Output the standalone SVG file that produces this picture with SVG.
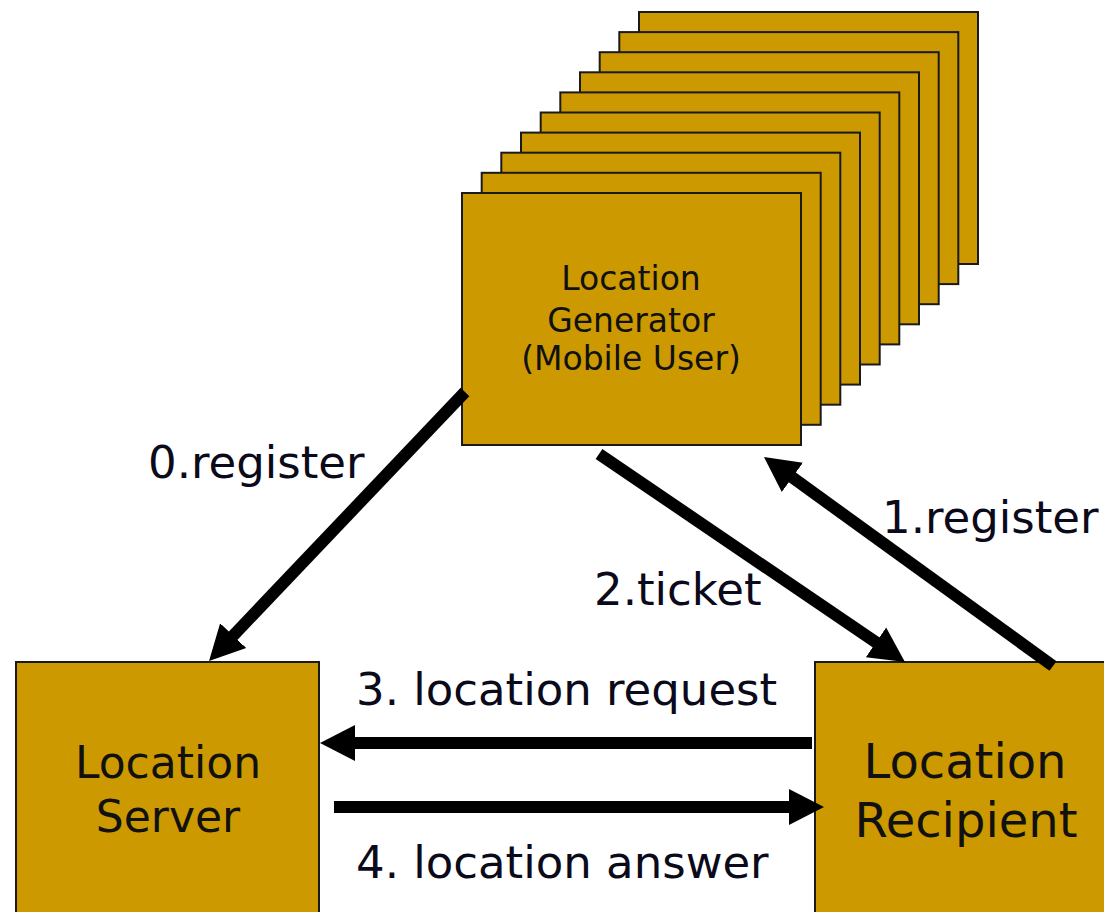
<svg xmlns="http://www.w3.org/2000/svg" width="1104" height="912" viewBox="0 0 1104 912">
  <defs>
    <style>
      .box { fill: #cc9900; stroke: #1a1a1a; stroke-width: 2; }
      .t { font-family: "DejaVu Sans", Verdana, sans-serif; fill: #111; text-anchor: middle; }
      .lbl { font-family: "DejaVu Sans", Verdana, sans-serif; fill: #0a0a1a; font-size: 45px; }
      .conn { stroke: #000; stroke-width: 12; fill: none; marker-end: url(#ah); }
    </style>
    <marker id="ah" markerUnits="userSpaceOnUse" markerWidth="40" markerHeight="40" viewBox="0 -20 40 40" refX="3" refY="0" orient="auto">
      <path d="M0,-18 L35,0 L0,18 z" fill="#000"/>
    </marker>
  </defs>
  <rect width="1104" height="912" fill="#fff"/>

  <g id="generator-stack">
    <rect class="box" x="639" y="12" width="339" height="252"/>
    <rect class="box" x="619.3" y="32.1" width="339" height="252"/>
    <rect class="box" x="599.7" y="52.2" width="339" height="252"/>
    <rect class="box" x="580" y="72.3" width="339" height="252"/>
    <rect class="box" x="560.3" y="92.4" width="339" height="252"/>
    <rect class="box" x="540.7" y="112.5" width="339" height="252"/>
    <rect class="box" x="521" y="132.6" width="339" height="252"/>
    <rect class="box" x="501.3" y="152.7" width="339" height="252"/>
    <rect class="box" x="481.7" y="172.8" width="339" height="252"/>
  </g>
  <g id="location-generator">
    <rect class="box" x="462" y="193" width="339" height="252"/>
    <text class="t" font-size="33" x="631" y="290">Location</text>
    <text class="t" font-size="33" x="631" y="332">Generator</text>
    <text class="t" font-size="33" x="631" y="370">(Mobile User)</text>
  </g>
  <g id="location-server">
    <rect class="box" x="16" y="662" width="303" height="270"/>
    <text class="t" font-size="44" x="168" y="778">Location</text>
    <text class="t" font-size="44" x="168" y="832">Server</text>
  </g>
  <g id="location-recipient">
    <rect class="box" x="815" y="662" width="310" height="270"/>
    <text class="t" font-size="48" x="965" y="778">Location</text>
    <text class="t" font-size="48" x="966" y="837">Recipient</text>
  </g>

  <g id="connectors">
    <line class="conn" x1="465" y1="392" x2="231.1" y2="637.8"/>
    <line class="conn" x1="599" y1="454" x2="878.5" y2="644"/>
    <line class="conn" x1="1053" y1="666" x2="789.9" y2="475.7"/>
    <line class="conn" x1="812" y1="743" x2="352" y2="743"/>
    <line class="conn" x1="334" y1="807" x2="792" y2="807"/>
  </g>

  <g id="labels">
    <text class="lbl" x="148" y="478">0.register</text>
    <text class="lbl" x="882" y="533">1.register</text>
    <text class="lbl" x="594" y="605">2.ticket</text>
    <text class="lbl" x="356" y="705">3. location request</text>
    <text class="lbl" x="356" y="878">4. location answer</text>
  </g>
</svg>
